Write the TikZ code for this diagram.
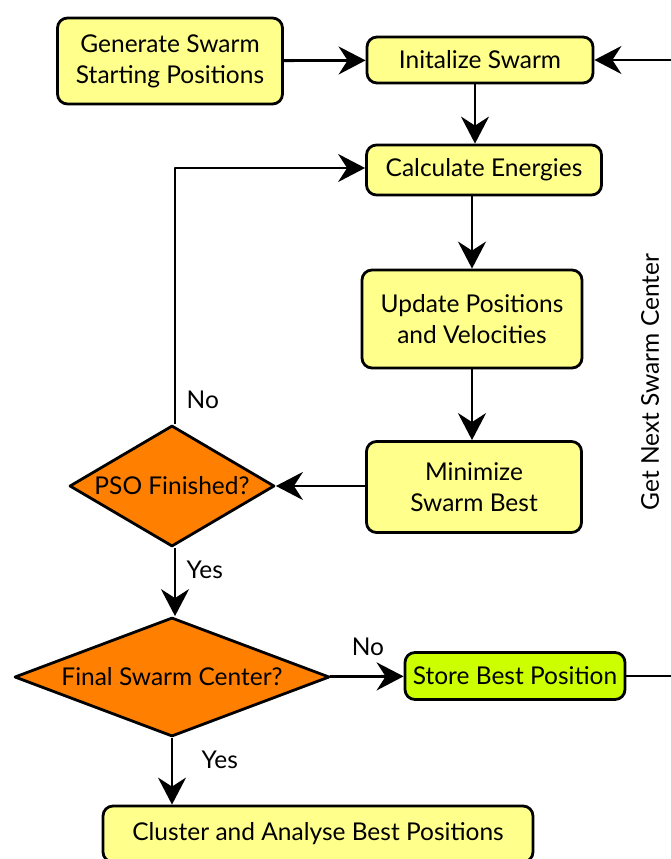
\documentclass[tikz,border=0pt]{standalone}
\usepackage{fontspec}
\setmainfont{Lato}
\usetikzlibrary{shapes.geometric,arrows.meta}

\definecolor{boxyellow}{RGB}{255,255,140}
\definecolor{decorange}{RGB}{255,128,0}
\definecolor{storegreen}{RGB}{204,255,0}

\begin{document}
\begin{tikzpicture}[x=1pt,y=-1pt,line join=round,line width=2.8pt]
\tikzstyle{box} = [draw,fill=boxyellow,rounded corners=10pt,align=center,inner sep=0pt,font=\fontsize{24.5}{31}\selectfont]
\tikzstyle{decision} = [draw,diamond,fill=decorange,inner sep=0pt,font=\fontsize{24.5}{31}\selectfont]
\tikzstyle{flow} = [draw,-{Stealth[length=27pt,width=28pt,inset=9pt]}]
\tikzstyle{answer} = [font=\fontsize{24.5}{31}\selectfont]

\useasboundingbox (0,0) rectangle (670,859);

\node[box,minimum width=225pt,minimum height=86pt] (generate) at (170,61) {Generate Swarm\\Starting Positions};
\node[box,minimum width=226pt,minimum height=46pt] (init) at (480,60) {Initalize Swarm};
\node[box,minimum width=235pt,minimum height=50pt] (energy) at (484,170) {Calculate Energies};
\node[box,minimum width=220pt,minimum height=98pt] (update) at (472,319) {Update Positions\\and Velocities};
\node[box,minimum width=215pt,minimum height=91pt] (minimize) at (474,487) {Minimize\\Swarm Best};
\node[decision,minimum width=205pt,minimum height=121pt] (pso) at (172,486) {\makebox[0pt]{PSO Finished?}};
\node[decision,minimum width=315pt,minimum height=119pt] (final) at (172,677) {\makebox[0pt]{Final Swarm Center?}};
\node[box,fill=storegreen,minimum width=220pt,minimum height=47pt] (store) at (515,676) {Store Best Position};
\node[box,minimum width=430pt,minimum height=56pt] (cluster) at (318,834) {Cluster and Analyse Best Positions};

\coordinate (back) at (676,60);
\coordinate (out) at (676,676);
\coordinate (turn) at (175,168);

\draw[flow] (generate) -- (init);
\draw[flow] (back) -- (init);
\draw[flow] (init.south -| 475,0) -- (energy.north -| 475,0);
\draw[flow] (energy.south -| update) -- (update);
\draw[flow] (update) -- (minimize.north -| update);
\draw[flow] (minimize.west |- pso) -- (pso);
\draw[flow] (pso.north -| turn) -- (turn) -- (energy.west |- turn);
\draw[flow] (pso.south -| turn) -- (final.north -| turn);
\draw[flow] (final) -- (store);
\draw[flow] (final) -- (cluster.north -| final);
\draw (store) -- (out) -- (back);

\node[answer,anchor=west] (psono) at (182,400) {No};
\node[answer,anchor=west] (psoyes) at (182,570) {Yes};
\node[answer] (finalno) at (368,647) {No};
\node[answer,anchor=west] (finalyes) at (197,760) {Yes};
\node[answer,rotate=90] (next) at (650,382) {Get Next Swarm Center};
\end{tikzpicture}
\end{document}
